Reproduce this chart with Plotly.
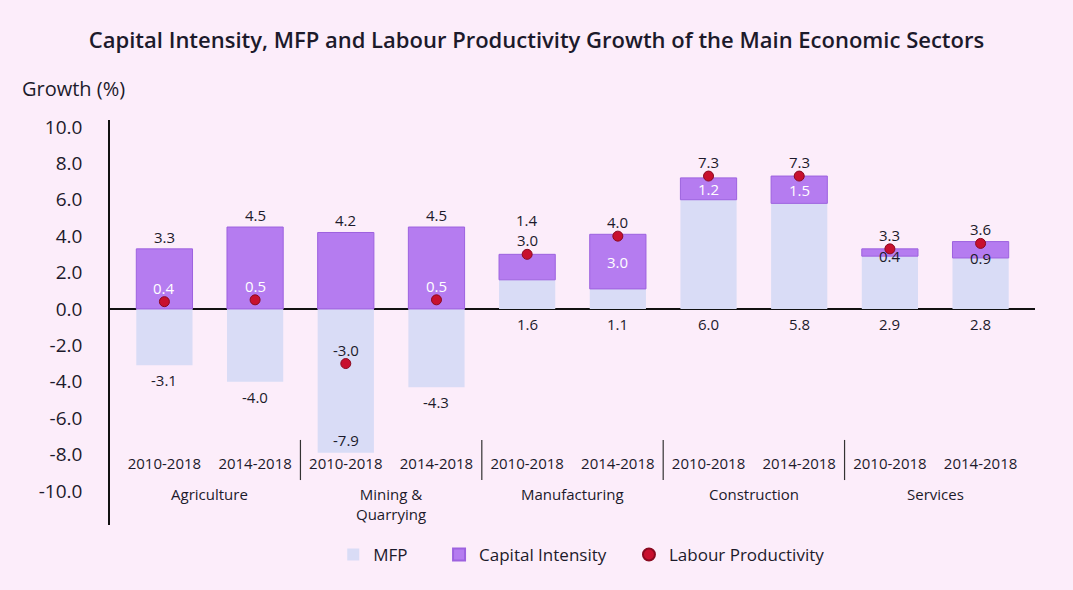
import plotly.graph_objects as go

# ---- data ----
sector_names = ["Agriculture", "Mining &<br>Quarrying", "Manufacturing", "Construction", "Services"]
sectors = [s for s in sector_names for _ in range(2)]
periods = ["2010-2018", "2014-2018"] * 5
mfp = [-3.1, -4.0, -7.9, -4.3, 1.6, 1.1, 6.0, 5.8, 2.9, 2.8]
capital_intensity = [3.3, 4.5, 4.2, 4.5, 1.4, 3.0, 1.2, 1.5, 0.4, 0.9]
labour_productivity = [0.4, 0.5, -3.0, 0.5, 3.0, 4.0, 7.3, 7.3, 3.3, 3.6]
y_ticks = [10, 8, 6, 4, 2, 0, -2, -4, -6, -8, -10]

# ---- styles ----
BG = "#fcedfa"
MFP_C = "#d9dcf6"
CI_C = "#b57cf0"
LP_C = "#c8102e"
TXT = "#1c1a2b"
FONT = "Open Sans"

# label placement styles per bar
mfp_inside = [False, False, True, False, False, False, False, False, False, False]
ci_mode = ["out", "out", "out", "out", "out", "in", "in", "in", "edge", "edge"]
ci_extra_shift = [0, 0, 0, 0, 22, 0, 0, 0, 0, 0]
lp_color = ["white", "white", TXT, "white", TXT, TXT, TXT, TXT, TXT, TXT]

cats = [f"{s}|{p}" for s, p in zip(sectors, periods)]

fig = go.Figure()
fig.add_trace(go.Bar(x=cats, y=mfp, name="MFP" + "&nbsp;" * 6,
                     marker=dict(color=MFP_C, line=dict(width=0))))
fig.add_trace(go.Bar(x=cats, y=capital_intensity, name="Capital Intensity" + "&nbsp;" * 4,
                     marker=dict(color=CI_C, line=dict(color="#9d62df", width=1))))
fig.add_trace(go.Scatter(x=cats, y=labour_productivity, name="Labour Productivity", mode="markers",
                         marker=dict(color=LP_C, size=10, line=dict(color="#8a0a20", width=1))))

LBL = 15
ann = []
for i in range(len(mfp)):
    c = cats[i]
    # MFP label
    if mfp_inside[i]:
        ann.append(dict(x=c, y=mfp[i], text=f"{mfp[i]:.1f}", showarrow=False,
                        yanchor="bottom", yshift=1, font=dict(color=TXT, size=LBL, family=FONT)))
    else:
        ann.append(dict(x=c, y=min(mfp[i], 0), text=f"{mfp[i]:.1f}", showarrow=False,
                        yanchor="top", yshift=-3, font=dict(color=TXT, size=LBL, family=FONT)))
    # CI label
    base = max(mfp[i], 0)
    top = base + capital_intensity[i]
    if ci_mode[i] == "out":
        ann.append(dict(x=c, y=top, text=f"{capital_intensity[i]:.1f}", showarrow=False,
                        yanchor="bottom", yshift=0 + ci_extra_shift[i],
                        font=dict(color=TXT, size=LBL, family=FONT)))
    elif ci_mode[i] == "in":
        ann.append(dict(x=c, y=base + capital_intensity[i] / 2, text=f"{capital_intensity[i]:.1f}",
                        showarrow=False, yanchor="middle",
                        font=dict(color="white", size=LBL, family=FONT)))
    else:
        ann.append(dict(x=c, y=base, text=f"{capital_intensity[i]:.1f}", showarrow=False,
                        yanchor="middle", font=dict(color=TXT, size=LBL, family=FONT)))
    # LP label
    ann.append(dict(x=c, y=labour_productivity[i], text=f"{labour_productivity[i]:.1f}",
                    showarrow=False, yanchor="bottom", yshift=2,
                    font=dict(color=lp_color[i], size=LBL, family=FONT)))

# sector labels (second level of the x axis)
for k, s in enumerate(sector_names):
    ann.append(dict(x=2 * k + 0.5, xref="x", y=0.105, yref="paper", text=s, showarrow=False,
                    yanchor="top", font=dict(color=TXT, size=15, family=FONT)))

ann.append(dict(x=-0.097, xref="paper", y=1.079, yref="paper", text="Growth (%)", showarrow=False,
                xanchor="left", yanchor="middle", font=dict(color=TXT, size=20, family=FONT)))

# group dividers between sectors
shapes = []
for k in range(1, len(sector_names)):
    b = 2 * k - 0.5
    shapes.append(dict(type="line", xref="x", x0=b, x1=b, yref="paper", y0=0.111, y1=0.21,
                       line=dict(color="#333333", width=1.2)))

fig.update_layout(
    width=1073, height=590,
    margin=dict(l=110, r=38, t=120, b=65),
    paper_bgcolor=BG, plot_bgcolor=BG,
    barmode="relative", bargap=0.38,
    font=dict(family=FONT, color=TXT),
    title=dict(text="Capital Intensity, MFP and Labour Productivity Growth of the Main Economic Sectors",
               x=0.5, xanchor="center", y=0.932, yanchor="middle",
               font=dict(size=22, color=TXT, family=FONT, weight=600)),
    xaxis=dict(type="category", anchor="free", position=0.178, range=[-0.6, 9.6],
               tickvals=cats, ticktext=periods,
               showline=False, ticks="", showgrid=False,
               tickfont=dict(size=15, color=TXT, family=FONT)),
    yaxis=dict(range=[-11.87, 10.38], tickvals=y_ticks,
               ticktext=[f"{v:.1f}" for v in y_ticks],
               showgrid=False, showline=True, linecolor="#111111", linewidth=1.5,
               zeroline=True, zerolinecolor="#111111", zerolinewidth=2,
               ticks="", ticklabelstandoff=22,
               tickfont=dict(size=19, color=TXT, family=FONT)),
    legend=dict(orientation="h", x=0.51, xanchor="center", y=-0.074, yanchor="middle",
                font=dict(size=17, color=TXT, family=FONT), bgcolor="rgba(0,0,0,0)",
                itemsizing="constant"),
    annotations=ann,
    shapes=shapes,
)

fig.write_html("out.html")
